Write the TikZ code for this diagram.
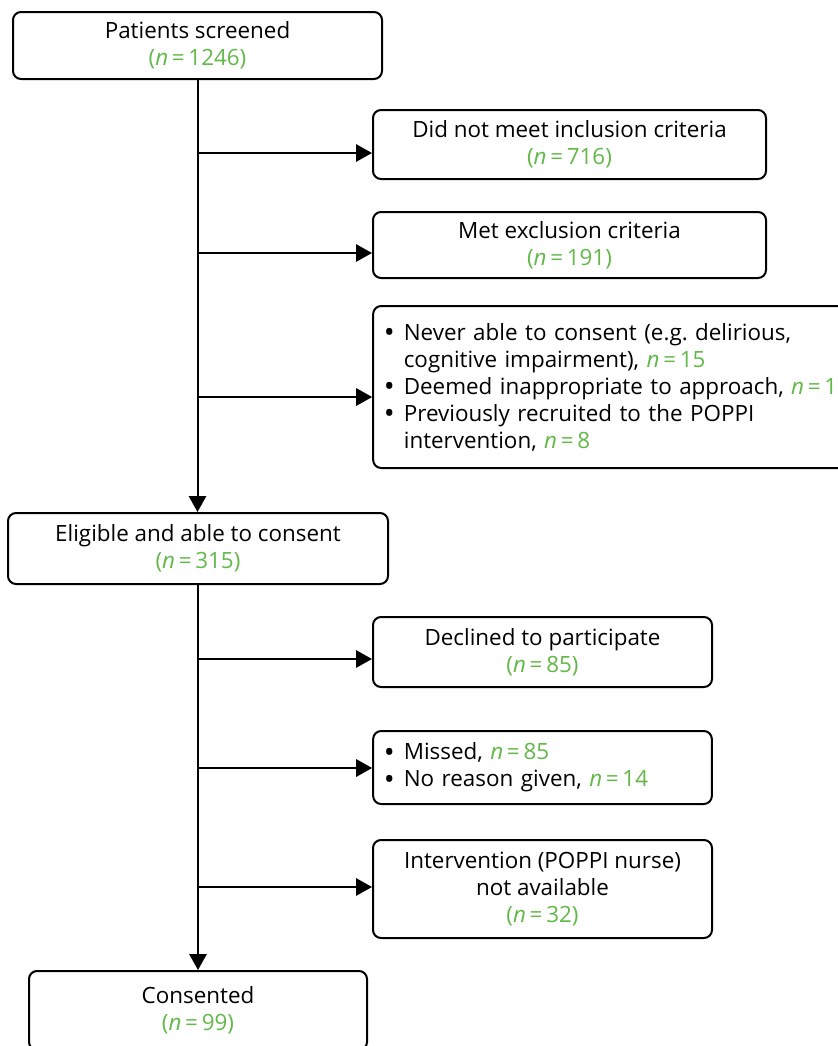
\documentclass[tikz,border=0pt]{standalone}
\usepackage{fontspec}
\setmainfont{Open Sans}
\usetikzlibrary{arrows.meta}
\definecolor{nhsgreen}{RGB}{98,184,72}
\newcommand{\nval}[1]{\textcolor{nhsgreen}{\textit{n}\,=\,#1}}
\newcommand{\bul}{\makebox[15pt][l]{\raisebox{-0.2ex}{\scalebox{1.3}{\textbullet}}}}
\newcommand{\hang}{\hspace*{15pt}}

\begin{document}
\frenchspacing
\begin{tikzpicture}[x=0.75pt,y=-0.75pt,
    font=\fontsize{16.8}{20.25}\selectfont,
    box/.style={draw, line width=1.5pt, rounded corners=6pt, align=center, inner sep=0pt},
    listbox/.style={box, align=left, inner xsep=8pt},
    flow/.style={line width=1.5pt, -{Triangle[length=12pt,width=13pt]}}]
  \useasboundingbox (0,0) rectangle (838,1046);
  \clip (0,0) rectangle (838,1046);

  % main column
  \node[box, minimum width=276.75pt, minimum height=50.25pt] (screen) at (197.5,45.5)
    {Patients screened\\ \textcolor{nhsgreen}{(}\nval{1246}\textcolor{nhsgreen}{)}};
  \node[box, minimum width=285pt, minimum height=53.25pt] (eligible) at (198,548.5)
    {Eligible and able to consent\\ \textcolor{nhsgreen}{(}\nval{315}\textcolor{nhsgreen}{)}};
  \node[box, minimum width=253.5pt, minimum height=59.25pt] (consent) at (198,1010.5)
    {Consented\\ \textcolor{nhsgreen}{(}\nval{99}\textcolor{nhsgreen}{)}};

  % exclusions before eligibility
  \node[box, minimum width=294.75pt, minimum height=51.75pt] (notmet) at (569.5,144.5)
    {Did not meet inclusion criteria\\ \textcolor{nhsgreen}{(}\nval{716}\textcolor{nhsgreen}{)}};
  \node[box, minimum width=294.75pt, minimum height=49.5pt] (excl) at (569.5,245)
    {Met exclusion criteria\\ \textcolor{nhsgreen}{(}\nval{191}\textcolor{nhsgreen}{)}};
  \node[listbox, minimum height=121.5pt, text width=364pt] (unable) at (626.5,387)
    {\bul Never able to consent (e.g. delirious,\\
     \hang cognitive impairment), \nval{15}\\
     \bul Deemed inappropriate to approach, \nval{1}\\
     \bul Previously recruited to the POPPI\\
     \hang intervention, \nval{8}};

  % losses after eligibility
  \node[box, minimum width=254.25pt, minimum height=52.5pt] (declined) at (542.5,652)
    {Declined to participate\\ \textcolor{nhsgreen}{(}\nval{85}\textcolor{nhsgreen}{)}};
  \node[listbox, minimum height=54.75pt, text width=238pt] (missed) at (542.5,767.5)
    {\bul Missed, \nval{85}\\
     \bul No reason given, \nval{14}};
  \node[box, minimum width=254.25pt, minimum height=73.5pt] (nurse) at (542.5,889)
    {Intervention (POPPI nurse)\\ not available\\ \textcolor{nhsgreen}{(}\nval{32}\textcolor{nhsgreen}{)}};

  % trunk
  \draw[flow] (screen.south) -- (screen.south |- eligible.north);
  \draw[flow] (eligible.south) -- (eligible.south |- consent.north);

  % branches
  \coordinate (b1) at (198,153);
  \coordinate (b2) at (198,253);
  \coordinate (b3) at (198,397);
  \coordinate (b4) at (198,659);
  \coordinate (b5) at (198,768);
  \coordinate (b6) at (198,887);
  \draw[flow] (b1) -- (b1 -| notmet.west);
  \draw[flow] (b2) -- (b2 -| excl.west);
  \draw[flow] (b3) -- (b3 -| unable.west);
  \draw[flow] (b4) -- (b4 -| declined.west);
  \draw[flow] (b5) -- (b5 -| missed.west);
  \draw[flow] (b6) -- (b6 -| nurse.west);
\end{tikzpicture}
\end{document}
